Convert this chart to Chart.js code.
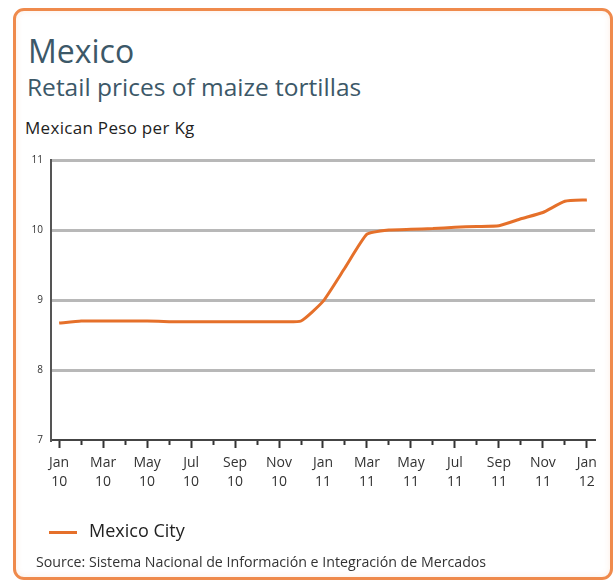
<!DOCTYPE html>
<html>
<head>
<meta charset="utf-8">
<script src="https://cdn.jsdelivr.net/npm/chart.js@4"></script>
<style>
  body { margin: 0; width: 616px; height: 583px; background: #fff; font-family: "Open Sans", sans-serif; position: relative; overflow: hidden; }
  .frame { position: absolute; left: 13px; top: 8px; width: 600px; height: 572px; box-sizing: border-box; border: 3px solid #ef8a4c; border-radius: 11px; box-shadow: inset 0 0 6px rgba(239,138,76,0.15); }
  .txt { position: absolute; line-height: 1; white-space: nowrap; }
  #title { left: 28px; top: 35px; font-size: 32px; color: #3c5868; }
  #subtitle { left: 27px; top: 75px; font-size: 24.5px; color: #3c5868; }
  #unit { left: 25px; top: 119px; font-size: 17px; letter-spacing: 0.3px; color: #222; }
  #legline { position: absolute; left: 49px; top: 531px; width: 28px; height: 3px; background: #e5702a; }
  #legtext { left: 89px; top: 521px; font-size: 18px; color: #222; }
  #source { left: 36px; top: 555px; font-size: 14.2px; color: #333; }
  canvas { position: absolute; left: 0; top: 0; }
</style>
</head>
<body>
<div class="frame"></div>
<div class="txt" id="title">Mexico</div>
<div class="txt" id="subtitle">Retail prices of maize tortillas</div>
<div class="txt" id="unit">Mexican Peso per Kg</div>
<div style="position:absolute;left:0;top:0;width:616px;height:583px;">
  <canvas id="chart" width="616" height="583"></canvas>
</div>
<div id="legline"></div>
<div class="txt" id="legtext">Mexico City</div>
<div class="txt" id="source">Source: Sistema Nacional de Información e Integración de Mercados</div>
<script>
// monthly series, Jan 2010 .. Jan 2012
const months = ['Jan 10','Feb 10','Mar 10','Apr 10','May 10','Jun 10','Jul 10','Aug 10','Sep 10','Oct 10','Nov 10','Dec 10',
                'Jan 11','Feb 11','Mar 11','Apr 11','May 11','Jun 11','Jul 11','Aug 11','Sep 11','Oct 11','Nov 11','Dec 11',
                'Jan 12'];
const mexicoCity = [8.67, 8.70, 8.70, 8.70, 8.70, 8.69, 8.69, 8.69, 8.69, 8.69, 8.69, 8.70,
                    8.98, 9.46, 9.94, 10.00, 10.01, 10.02, 10.04, 10.05, 10.06, 10.16, 10.25, 10.41,
                    10.43];
const yTicks = [7, 8, 9, 10, 11];

const points = mexicoCity.map((v, i) => ({ x: i, y: v }));

const ctx = document.getElementById('chart').getContext('2d');
new Chart(ctx, {
  type: 'line',
  data: {
    datasets: [{
      label: 'Mexico City',
      data: points,
      borderColor: '#e5702a',
      borderWidth: 3,
      pointRadius: 0,
      tension: 0.15,
      fill: false
    }]
  },
  options: {
    responsive: false,
    animation: false,
    layout: { padding: { top: 160, right: 21, bottom: 93, left: 0 } },
    plugins: { legend: { display: false }, tooltip: { enabled: false } },
    scales: {
      x: {
        type: 'linear',
        min: -0.37,
        max: months.length - 1 + 0.37,
        afterBuildTicks: (s) => { s.ticks = months.map((m, i) => ({ value: i })); },
        afterFit: (s) => { s.height = 50; },
        border: { display: true, color: '#444', width: 2 },
        grid: {
          display: true,
          drawOnChartArea: false,
          drawTicks: true,
          tickLength: 8,
          tickWidth: 2,
          tickColor: '#333',
          tickBorderDash: (c) => (c.index % 2 ? [4, 20] : [])
        },
        ticks: {
          autoSkip: false,
          maxRotation: 0,
          padding: 6,
          color: '#333',
          font: { family: 'Open Sans', size: 14, lineHeight: 1.35 },
          callback: (v) => {
            const m = months[v];
            if (!m || v % 2) return '';
            return m.split(' ');
          }
        }
      },
      y: {
        min: 7,
        max: 11,
        afterBuildTicks: (s) => { s.ticks = yTicks.map(v => ({ value: v })); },
        afterFit: (s) => { s.width = 51; },
        border: { display: true, color: '#555', width: 2 },
        grid: {
          color: (c) => (c.tick && c.tick.value === 7 ? 'rgba(0,0,0,0)' : '#b8b8b8'),
          lineWidth: 3,
          drawTicks: false
        },
        ticks: {
          padding: 8,
          color: '#333',
          font: { family: 'Open Sans', size: 10 }
        }
      }
    }
  }
});
</script>
</body>
</html>
